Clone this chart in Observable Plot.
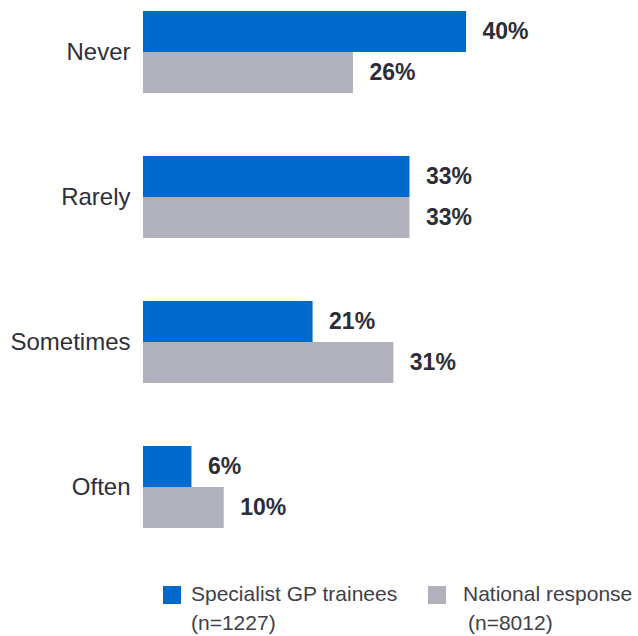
<!DOCTYPE html>
<html>
<head>
<meta charset="utf-8">
<script src="https://cdn.jsdelivr.net/npm/d3@7"></script>
<script src="https://cdn.jsdelivr.net/npm/@observablehq/plot@0.6"></script>
<style>
  body { margin: 0; background: #fff; font-family: "Liberation Sans", Arial, sans-serif; }
  #wrap { position: relative; width: 638px; height: 636px; }
  .leg { position: absolute; font-size: 21px; line-height: 29px; color: #404048; white-space: nowrap; }
  .sw { position: absolute; width: 18px; height: 18px; }
</style>
</head>
<body>
<div id="wrap">
  <div id="chart"></div>
  <div id="legend"></div>
</div>
<script>
const categories = ["Never", "Rarely", "Sometimes", "Often"];
const series = ["Specialist GP trainees", "National response"];
const seriesN = ["(n=1227)", "(n=8012)"];
const trainees = [40, 33, 21, 6];
const national = [26, 33, 31, 10];
const colors = ["#006ACC", "#B1B1BD"];

const data = categories.flatMap((c, i) => [
  {category: c, series: series[0], value: trainees[i]},
  {category: c, series: series[1], value: national[i]}
]);

const chart = Plot.plot({
  width: 638,
  height: 560,
  marginLeft: 143,
  marginRight: 172,
  marginTop: 8,
  marginBottom: 31,
  style: {fontFamily: "'Liberation Sans', Arial, sans-serif", background: "white"},
  x: {domain: [0, 40], axis: null},
  y: {domain: series, axis: null, paddingInner: 0, paddingOuter: 0},
  fy: {domain: categories, axis: null, paddingInner: 0.43, paddingOuter: 0},
  color: {domain: series, range: colors},
  marks: [
    Plot.barX(data, {x: "value", y: "series", fy: "category", fill: "series"}),
    Plot.text(data, {x: "value", y: "series", fy: "category", text: d => d.value + "%", dx: 16, textAnchor: "start", fontSize: 23, fontWeight: "bold", fill: "#2d2d38"}),
    Plot.text(categories, {fy: d => d, text: d => d, frameAnchor: "left", dx: -13, textAnchor: "end", fontSize: 24, fill: "#2f2f3a"})
  ]
});
document.getElementById("chart").appendChild(chart);

const legend = document.getElementById("legend");
const legPos = [{sw: 163, tx: 191, indent: 0}, {sw: 428, tx: 463, indent: 5}];
series.forEach((s, i) => {
  const sw = document.createElement("div");
  sw.className = "sw";
  sw.style.left = legPos[i].sw + "px";
  sw.style.top = "586px";
  sw.style.background = colors[i];
  legend.appendChild(sw);
  const t = document.createElement("div");
  t.className = "leg";
  t.style.left = legPos[i].tx + "px";
  t.style.top = "579px";
  t.innerHTML = s + "<br><span style='padding-left:" + legPos[i].indent + "px'>" + seriesN[i] + "</span>";
  legend.appendChild(t);
});
</script>
</body>
</html>
